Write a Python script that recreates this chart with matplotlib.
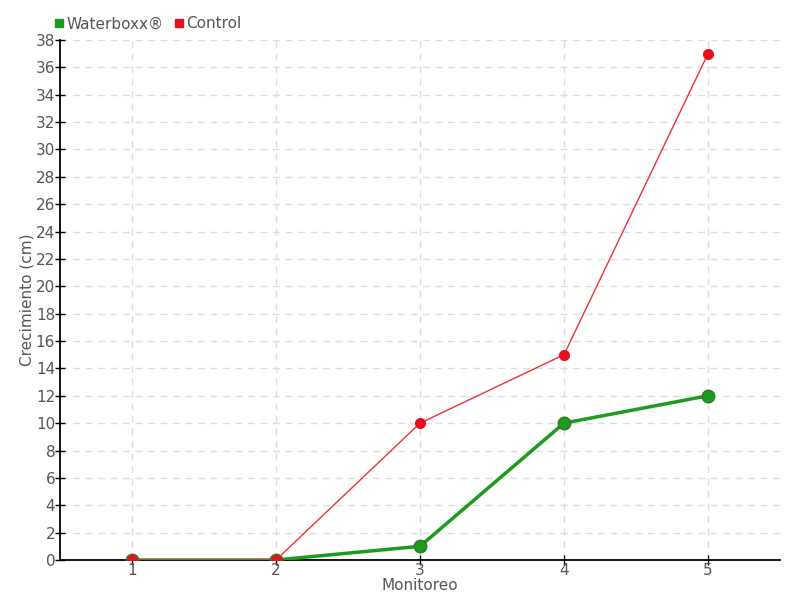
import matplotlib.pyplot as plt
from matplotlib import font_manager

monitoreo = [1, 2, 3, 4, 5]
waterboxx = [0, 0, 1, 10, 12]
control = [0, 0, 10, 15, 37]
yticks = list(range(0, 40, 2))

names = {f.name for f in font_manager.fontManager.ttflist}
fam = 'DejaVu Sans'
for cand in ['Liberation Sans Narrow', 'DejaVu Sans Condensed']:
    if cand in names:
        fam = cand
        break
plt.rcParams['font.family'] = [fam, 'DejaVu Sans']
txt = '#555555'

fig = plt.figure(figsize=(8, 6), dpi=100)
ax = fig.add_axes([0.075, 0.0667, 0.9, 0.8667])

ax.plot(monitoreo, waterboxx, color='#1e9a1e', linewidth=2.5, marker='o', markersize=9,
        markeredgecolor='#2a7a2a', markeredgewidth=1, label='Waterboxx®', zorder=3)
ax.plot(monitoreo, control, color='#f0303a', linewidth=1, marker='o', markersize=7,
        markerfacecolor='#e8101e', markeredgecolor='#e8101e', label='Control', zorder=4)

ax.set_xlim(0.5, 5.5)
ax.set_ylim(0, 38)
ax.set_xticks(monitoreo)
ax.set_yticks(yticks)
ax.grid(True, color='#dddddd', linestyle=(0, (5, 4)), linewidth=1)
ax.set_axisbelow(True)

for s in ['top', 'right']:
    ax.spines[s].set_visible(False)
ax.spines['left'].set_linewidth(1.3)
ax.spines['bottom'].set_linewidth(1.3)
ax.tick_params(direction='inout', length=7, width=1, labelsize=11, colors='black', labelcolor=txt, pad=0)
ax.tick_params(axis='x', pad=-1)

ax.set_xlabel('Monitoreo', fontsize=11, color=txt, labelpad=0)
ax.set_ylabel('Crecimiento (cm)', fontsize=11, color=txt, labelpad=1)

ax.legend(loc='lower left', bbox_to_anchor=(-0.025, 0.99), ncol=2, frameon=False, fontsize=11,
          handlelength=0.4, handletextpad=0.3, columnspacing=0.8, labelcolor=txt)
leg = ax.get_legend()
for h, c in zip(leg.legend_handles, ['#1e9a1e', '#e8101e']):
    h.set_linestyle('None')
    h.set_marker('s')
    h.set_markerfacecolor(c)
    h.set_markeredgecolor(c)
    h.set_markersize(6)

fig.savefig('out.png', dpi=100)
